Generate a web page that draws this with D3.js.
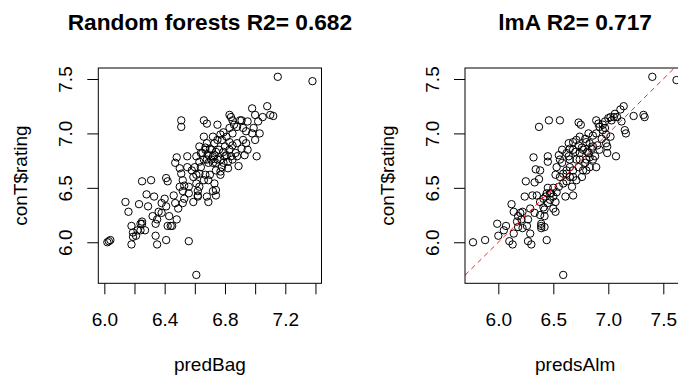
<!DOCTYPE html>
<html>
<head>
<meta charset="utf-8">
<script src="https://cdn.jsdelivr.net/npm/d3@7"></script>
<style>
  body { margin: 0; background: #fff; }
  text { font-family: "Liberation Sans", Arial, sans-serif; fill: #000; }
</style>
</head>
<body>
<script>
// random forest predictions (x) against observed rating (y)
const rfPred = [
  7.15, 7.38, 6.61, 6.56, 6.02, 6.03, 6.04, 6.18, 6.35, 6.41,
  6.34, 6.14, 6.16, 6.25, 6.31, 6.28, 6.23, 6.18, 6.19, 6.21,
  6.24, 6.25, 6.27, 6.22, 6.25, 6.33, 6.34, 6.35, 6.36, 6.38,
  6.40, 6.41, 6.42, 6.41, 6.42, 6.44, 6.45, 6.43, 6.46, 6.47,
  6.48, 6.49, 6.48, 6.47, 6.51, 6.51, 6.50, 6.51, 6.52, 6.53,
  6.52, 6.53, 6.52, 6.55, 6.56, 6.59, 6.61, 6.62, 6.63, 6.62,
  6.64, 6.66, 6.68, 6.68, 6.69, 6.66, 6.67, 6.68, 6.69, 6.70,
  6.71, 6.72, 6.73, 6.74, 6.73, 6.74, 6.73, 6.76, 6.77, 6.74,
  6.75, 6.77, 6.78, 6.79, 6.80, 6.78, 6.81, 6.82, 6.83, 6.84,
  6.85, 6.83, 6.85, 6.84, 6.87, 6.88, 6.89, 6.90, 6.91, 6.93,
  6.94, 6.95, 6.98, 6.99, 7.00, 7.01, 7.00, 7.02, 7.03, 7.05,
  7.08, 7.10, 7.12, 6.92, 6.88, 6.63, 6.61, 6.66, 6.72, 6.66,
  6.67, 6.65, 6.60, 6.64, 6.69, 6.68, 6.70, 6.71, 6.72, 6.74,
  6.75, 6.77, 6.79, 6.80, 6.83, 6.85, 6.88, 6.61, 6.63, 6.67,
  6.69, 6.77, 6.82, 6.91, 6.92, 6.85, 6.81, 6.75, 6.59, 6.58,
  6.55, 6.56, 6.62, 6.50, 6.38, 6.32, 6.29, 6.24, 6.19, 6.63,
  6.72, 6.94, 6.98, 6.95, 6.86, 6.83, 6.79, 6.74
];
const rfRating = [
  7.52, 7.48, 5.70, 6.01, 6.00, 6.01, 6.02, 5.98, 5.98, 6.02,
  6.06, 6.37, 6.28, 6.56, 6.57, 6.44, 6.35, 6.15, 6.09, 6.06,
  6.17, 6.17, 6.11, 6.11, 6.19, 6.42, 6.17, 6.21, 6.28, 6.36,
  6.40, 6.59, 6.56, 6.33, 6.15, 6.15, 6.15, 6.24, 6.43, 6.36,
  6.21, 6.31, 6.78, 6.73, 7.12, 7.06, 6.68, 6.63, 6.57, 6.52,
  6.47, 6.40, 6.36, 6.79, 6.45, 6.37, 6.79, 6.43, 6.63, 6.42,
  6.69, 7.12, 7.09, 6.42, 6.37, 6.76, 6.85, 6.91, 6.73, 6.62,
  6.85, 6.79, 6.91, 6.66, 6.54, 6.48, 6.80, 6.85, 6.76, 6.43,
  7.08, 6.99, 6.94, 7.01, 6.88, 6.69, 6.80, 6.74, 7.17, 7.15,
  7.12, 6.92, 6.89, 6.79, 6.82, 6.91, 6.70, 7.12, 7.12, 6.80,
  7.02, 6.85, 7.23, 7.05, 6.94, 6.79, 7.17, 7.11, 7.00, 7.15,
  7.25, 7.17, 7.16, 7.05, 7.06, 6.74, 6.62, 6.57, 6.47, 6.97,
  6.87, 6.82, 6.69, 6.82, 6.80, 6.76, 6.86, 6.76, 6.73, 6.83,
  6.76, 6.65, 6.73, 6.79, 6.85, 6.76, 6.79, 6.54, 6.51, 6.62,
  6.57, 6.62, 6.68, 6.86, 6.94, 7.00, 6.97, 6.94, 6.60, 6.66,
  6.69, 6.51, 6.47, 6.51, 6.27, 6.24, 6.33, 6.11, 6.05, 6.88,
  6.97, 6.91, 7.00, 7.11, 7.08, 7.05, 6.83, 6.73
];

// linear model predictions (x) against observed rating (y)
const lmPred = [
  7.40, 7.62, 6.59, 5.77, 5.88, 5.99, 6.00, 6.07, 6.10, 6.13,
  6.12, 6.14, 6.17, 6.20, 6.21, 6.22, 6.26, 6.27, 6.30, 6.24,
  6.25, 6.27, 6.29, 6.31, 6.32, 6.34, 6.35, 6.37, 6.37, 6.38,
  6.39, 6.39, 6.42, 6.44, 6.45, 6.45, 6.46, 6.45, 6.41, 6.43,
  6.45, 6.48, 6.50, 6.52, 6.52, 6.53, 6.56, 6.56, 6.58, 6.59,
  6.61, 6.62, 6.62, 6.64, 6.65, 6.65, 6.67, 6.68, 6.68, 6.70,
  6.71, 6.73, 6.75, 6.74, 6.76, 6.77, 6.79, 6.80, 6.80, 6.82,
  6.83, 6.85, 6.86, 6.88, 6.89, 6.89, 6.91, 6.90, 6.92, 6.94,
  6.95, 6.97, 6.98, 6.99, 7.00, 7.02, 7.03, 7.05, 7.06, 7.08,
  7.07, 7.11, 7.12, 7.14, 7.15, 7.16, 7.23, 7.32, 7.33, 6.98,
  6.95, 6.86, 6.83, 6.81, 6.77, 6.73, 6.68, 6.65, 6.62, 6.58,
  6.55, 6.52, 6.47, 6.42, 6.38, 6.33, 6.29, 6.18, 6.14, 6.05,
  6.39, 6.99, 7.02, 6.71, 6.74, 6.79, 6.83, 6.86, 6.68, 6.65,
  6.59, 6.56, 6.53, 6.50, 6.47, 6.44, 6.41, 6.50, 6.74, 6.71,
  6.68, 6.82, 6.89, 6.92, 6.97, 6.80, 6.76, 6.73, 6.62, 6.64,
  6.55, 6.38, 6.33, 6.22, 6.18, 6.42
];
const lmRating = [
  7.52, 7.49, 5.70, 6.00, 6.02, 6.17, 6.06, 6.15, 6.01, 5.98,
  6.35, 6.28, 6.19, 6.27, 6.21, 6.28, 6.15, 6.01, 5.98, 6.42,
  6.56, 6.21, 6.31, 6.43, 6.78, 6.67, 6.43, 6.58, 7.06, 6.37,
  6.17, 6.15, 6.14, 6.02, 6.74, 6.79, 7.12, 6.50, 6.40, 6.42,
  6.36, 6.45, 6.31, 6.28, 6.62, 6.69, 7.12, 6.76, 6.85, 6.54,
  6.42, 6.66, 6.82, 6.91, 6.60, 6.76, 6.51, 6.43, 6.66, 6.83,
  6.57, 7.10, 7.08, 6.76, 6.87, 6.66, 6.95, 6.76, 6.92, 6.82,
  6.69, 6.86, 6.98, 6.79, 6.69, 7.12, 7.09, 6.89, 6.85, 6.95,
  7.03, 7.05, 6.91, 6.82, 7.14, 7.15, 7.12, 7.15, 7.18, 7.15,
  6.79, 7.22, 7.11, 7.25, 7.03, 7.00, 7.16, 7.17, 7.15, 6.99,
  7.08, 6.88, 6.78, 6.83, 6.85, 6.89, 6.85, 6.86, 6.63, 6.73,
  6.51, 6.37, 6.39, 6.30, 6.25, 6.27, 6.08, 6.24, 6.08, 6.11,
  6.13, 6.88, 6.97, 6.76, 6.82, 6.73, 6.91, 6.76, 6.60, 6.69,
  6.63, 6.60, 6.46, 6.50, 6.45, 6.45, 6.32, 6.42, 6.97, 6.94,
  6.92, 7.00, 7.00, 7.06, 7.11, 6.66, 6.60, 6.69, 6.56, 6.79,
  6.80, 6.66, 6.55, 6.13, 6.14, 6.24
];

// axis limits and ticks
const ratingLim = [5.623, 7.601];
const ratingTicks = [6.0, 6.5, 7.0, 7.5];
const rfLim = [5.96, 7.44];
const rfTicks = [6.0, 6.2, 6.4, 6.6, 6.8, 7.0, 7.2, 7.4];
const rfTickLabels = ["6.0", "", "6.4", "", "6.8", "", "7.2", ""];
const lmLim = [5.697, 7.70];
const lmTicks = [6.0, 6.5, 7.0, 7.5];
const lmTickLabels = ["6.0", "6.5", "7.0", "7.5"];
const abline = [0, 1]; // intercept, slope

const width = 678, height = 377;
const plotTop = 68, plotBottom = 283.3;
const TICK = 11; // tick length

const svg = d3.select("body").append("svg")
  .attr("width", width)
  .attr("height", height)
  .style("display", "block");

svg.append("rect").attr("width", width).attr("height", height).attr("fill", "#fff");

function drawPanel(p) {
  const x = d3.scaleLinear().domain(p.xLim).range([p.left, p.right]);
  const y = d3.scaleLinear().domain(ratingLim).range([plotBottom, plotTop]);
  const g = svg.append("g");

  g.append("clipPath").attr("id", p.id + "-clip")
    .append("rect")
    .attr("x", p.left).attr("y", plotTop)
    .attr("width", p.right - p.left).attr("height", plotBottom - plotTop);

  // points, open circles like pch = 1
  g.append("g")
    .selectAll("circle")
    .data(d3.range(p.xs.length))
    .join("circle")
    .attr("cx", i => x(p.xs[i]))
    .attr("cy", i => y(p.ys[i]))
    .attr("r", 3.7)
    .attr("fill", "none")
    .attr("stroke", "#000")
    .attr("stroke-width", 1);

  // reference line y = a + b x
  if (p.abline) {
    const line = d3.line().x(d => x(d)).y(d => y(p.abline[0] + p.abline[1] * d));
    g.append("path")
      .attr("clip-path", `url(#${p.id}-clip)`)
      .attr("d", line(p.xLim))
      .attr("fill", "none")
      .attr("stroke", "#ff2020")
      .attr("stroke-width", 1)
      .attr("stroke-dasharray", "5,4");
  }

  // plot box
  g.append("rect")
    .attr("x", p.left).attr("y", plotTop)
    .attr("width", p.right - p.left).attr("height", plotBottom - plotTop)
    .attr("fill", "none")
    .attr("stroke", "#000")
    .attr("stroke-width", 1);

  // x axis
  const xAxis = g.append("g")
    .attr("transform", `translate(0,${plotBottom})`)
    .call(d3.axisBottom(x)
      .tickValues(p.xTicks)
      .tickFormat((d, i) => p.xTickLabels[i])
      .tickSize(TICK)
      .tickSizeOuter(0));
  xAxis.select(".domain").remove();
  xAxis.selectAll("line").attr("stroke", "#000");
  xAxis.selectAll("text")
    .attr("y", 42.5).attr("dy", null)
    .attr("font-size", 19)
    .attr("font-family", null)
    .attr("fill", "#000");

  // y axis, labels parallel to the axis
  const yAxis = g.append("g")
    .attr("transform", `translate(${p.left},0)`)
    .call(d3.axisLeft(y)
      .tickValues(ratingTicks)
      .tickFormat(d3.format(".1f"))
      .tickSize(TICK)
      .tickSizeOuter(0));
  yAxis.select(".domain").remove();
  yAxis.selectAll("line").attr("stroke", "#000");
  yAxis.selectAll("text")
    .attr("x", null).attr("y", null).attr("dy", null)
    .attr("transform", "translate(-26.5,0) rotate(-90)")
    .attr("text-anchor", "middle")
    .attr("font-size", 19)
    .attr("font-family", null)
    .attr("fill", "#000");

  const cx = (p.left + p.right) / 2;
  const cy = (plotTop + plotBottom) / 2;

  g.append("text")
    .attr("x", cx).attr("y", 30)
    .attr("text-anchor", "middle")
    .attr("font-size", 22.7)
    .attr("font-weight", "bold")
    .text(p.title);

  g.append("text")
    .attr("x", cx).attr("y", 371)
    .attr("text-anchor", "middle")
    .attr("font-size", 19)
    .text(p.xLabel);

  g.append("text")
    .attr("transform", `translate(${p.left - 71},${cy}) rotate(-90)`)
    .attr("text-anchor", "middle")
    .attr("font-size", 19)
    .text("conT$rating");
}

drawPanel({
  id: "rf", left: 98.3, right: 321.5,
  xs: rfPred, ys: rfRating, xLim: rfLim,
  xTicks: rfTicks, xTickLabels: rfTickLabels,
  title: "Random forests R2= 0.682", xLabel: "predBag"
});

drawPanel({
  id: "lm", left: 465, right: 685.3,
  xs: lmPred, ys: lmRating, xLim: lmLim,
  xTicks: lmTicks, xTickLabels: lmTickLabels,
  title: "lmA R2= 0.717", xLabel: "predsAlm",
  abline: abline
});
</script>
</body>
</html>
